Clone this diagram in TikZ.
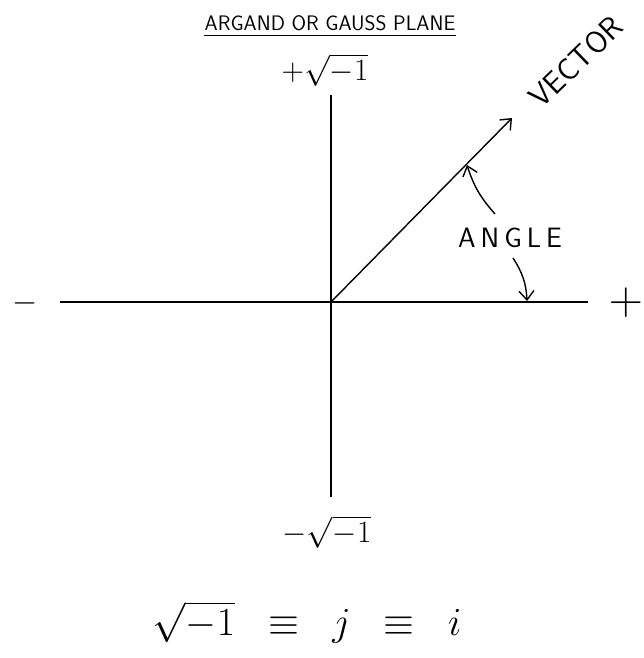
\documentclass[tikz,border=0pt]{standalone}
\usepackage{amsmath,amssymb}
\usepackage{tikz}
\usetikzlibrary{arrows.meta,calc}

\begin{document}
\begin{tikzpicture}[
  x=1pt, y=-1pt,
  >={Straight Barb[length=9pt,width=15pt]},
  axisline/.style={line width=1.6pt},
  vecline/.style={->, line width=1.4pt},
  notearrow/.style={->, line width=1.4pt},
  titletext/.style={font=\sffamily\fontsize{21}{21}\selectfont, inner sep=0pt},
  handlabel/.style={font=\Huge, scale=1.25, inner sep=0pt},
  signmark/.style={font=\Huge, inner sep=0pt},
  notetext/.style={font=\sffamily\fontsize{28}{28}\selectfont, inner sep=0pt}
]
  \useasboundingbox (0,0) rectangle (644,658);
  % axes and vector
  \coordinate (origin) at (331,302);
  \coordinate (xneg) at (60,302);
  \coordinate (xpos) at (588,302);
  \coordinate (ytop) at (331,95);
  \coordinate (ybot) at (331,497);
  \coordinate (vectip) at (512,118);
  \coordinate (vecmark) at (467,165);
  \coordinate (axismark) at (527,301);
  \draw[axisline] (xneg) -- (xpos);
  \draw[axisline] (ytop) -- (ybot);
  \draw[vecline] (origin) -- (vectip);
  % labels
  \node[titletext] (title) at (330,23) {ARGAND OR GAUSS PLANE};
  \draw[line width=0.8pt] ([yshift=-5pt]title.south west) -- ([yshift=-5pt]title.south east);
  \node[handlabel] (imagtop) at (325,70) {$+\sqrt{-1}$};
  \node[handlabel] (imagbot) at (327,532) {$-\sqrt{-1}$};
  \node[signmark, scale=1.3] (realneg) at (25,303) {$-$};
  \node[signmark, scale=1.9] (realpos) at (626,303) {$+$};
  \node[notetext, font=\sffamily\fontsize{31}{31}\selectfont, rotate=44] (vector) at (576,62) {VECTOR};
  \node[notetext] (angle) at (510,238) {A\kern5pt N\kern5pt G\kern5pt L\kern5pt E};
  \draw[notearrow] ([xshift=-15pt,yshift=14pt]angle.north) to[bend left=12] (vecmark);
  \draw[notearrow] ([xshift=3pt,yshift=-10pt]angle.south) to[bend left=15] (axismark);
  \node[font=\Huge, scale=1.6, inner sep=0pt] (identity) at (307,622)
    {$\sqrt{-1}\;\;\equiv\;\;j\;\;\equiv\;\;i$};
\end{tikzpicture}
\end{document}
